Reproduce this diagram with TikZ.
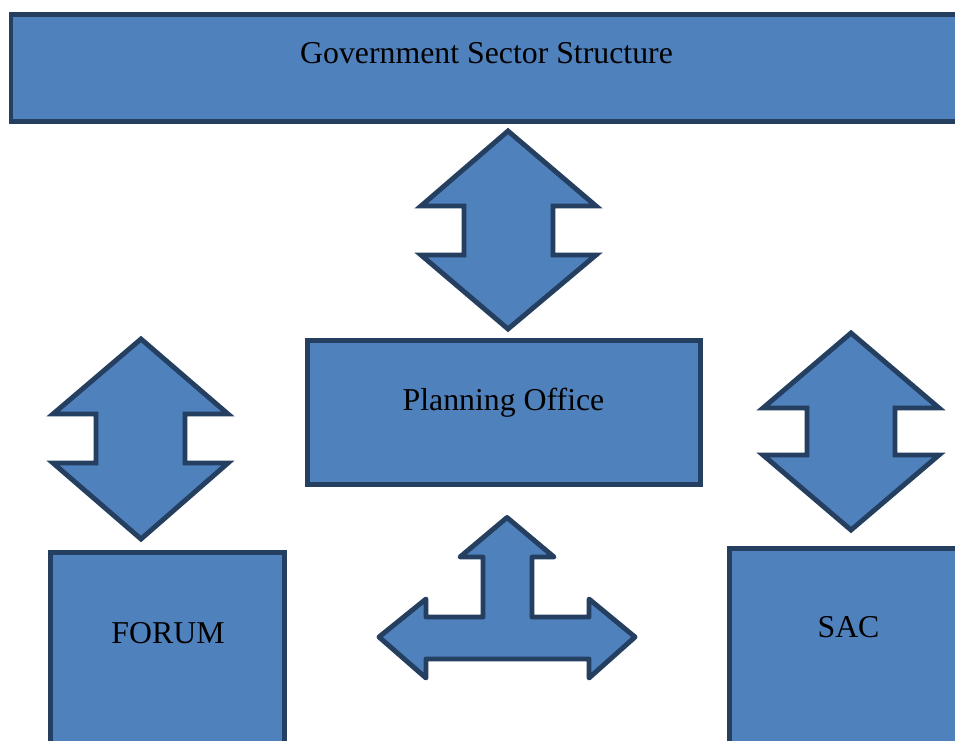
\documentclass[tikz,border=0pt]{standalone}
\usepackage{fontspec}
\setmainfont{Liberation Serif}
\usetikzlibrary{fit}
\definecolor{boxfill}{HTML}{4F81BD}
\definecolor{boxline}{HTML}{243F60}
\tikzset{
    box/.style={draw=boxline, fill=boxfill, line width=2.8pt, inner sep=0pt},
    blockarrow/.style={draw=boxline, fill=boxfill, line width=2.8pt, line join=miter},
    boxtext/.style={font=\fontsize{18.1}{21}\selectfont, anchor=base, inner sep=0pt}
}
\begin{document}
\begin{tikzpicture}[x=0.02cm, y=-0.02cm]
        \useasboundingbox (0, 0) rectangle (955, 740);
        \fill[white] (0, 0) rectangle (955, 740);
        \clip (0, 0) rectangle (955, 740);
        % top
        \node[box, fit={(11, 14.5) (970, 121.5)}] (gov) {};
            \node[boxtext] (govtext) at (486.5, 64) {Government Sector Structure};
        \draw[blockarrow] (508, 131) -- (596, 206) -- (553, 206) -- (553, 255) -- (596, 255)
            -- (508, 329) -- (421, 255) -- (464, 255) -- (464, 206) -- (421, 206) -- cycle;
        % middle
        \node[box, fit={(307.5, 340.5) (700.5, 484.5)}] (plan) {};
            \node[boxtext] (plantext) at (503.5, 410) {Planning Office};
        \draw[blockarrow] (141, 339) -- (228, 414) -- (185, 414) -- (185, 463) -- (228, 463)
            -- (141, 539) -- (53, 463) -- (96, 463) -- (96, 414) -- (53, 414) -- cycle;
        \draw[blockarrow] (851, 333) -- (939, 408) -- (895, 408) -- (895, 455) -- (939, 455)
            -- (851, 530) -- (763, 455) -- (807, 455) -- (807, 408) -- (763, 408) -- cycle;
        % bottom
        \node[box, fit={(50.5, 552.5) (284.5, 760)}] (forum) {};
            \node[boxtext] (forumtext) at (168, 643) {FORUM};
        \node[box, fit={(729.5, 548.5) (970, 760)}] (sac) {};
            \node[boxtext] (sactext) at (848.5, 637.5) {SAC};
        \draw[blockarrow, line join=round] (507, 517.5) -- (554, 557) -- (532, 557) -- (532, 617)
            -- (589, 617) -- (589, 599) -- (635, 637) -- (589, 678) -- (589, 659) -- (426, 659)
            -- (426, 678) -- (379, 637) -- (426, 599) -- (426, 617) -- (483, 617) -- (483, 557)
            -- (460, 557) -- cycle;
    \end{tikzpicture}
\end{document}
